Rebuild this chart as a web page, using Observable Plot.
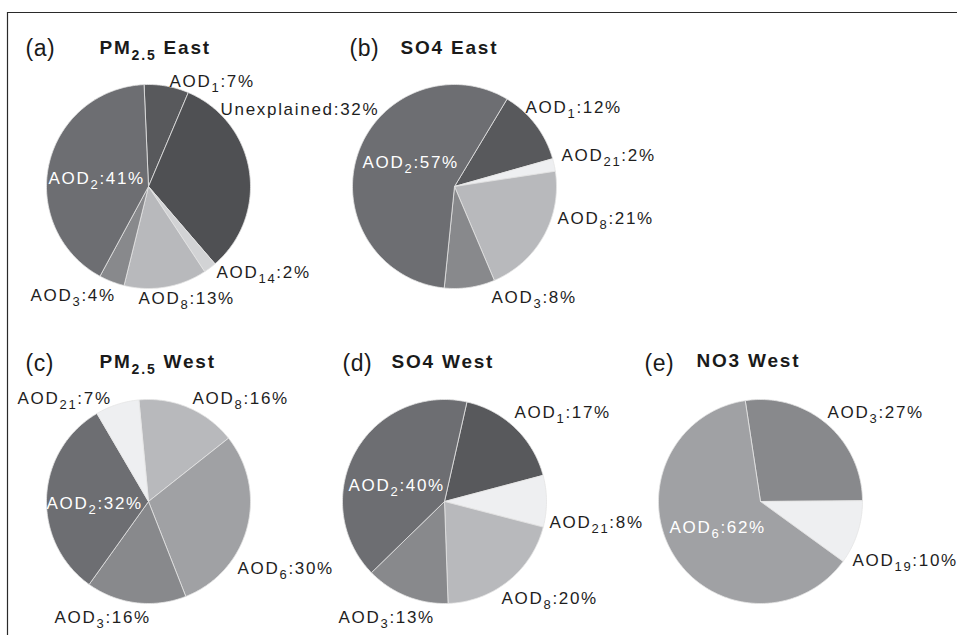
<!DOCTYPE html>
<html>
<head>
<meta charset="utf-8">
<script src="https://cdn.jsdelivr.net/npm/d3@7"></script>
<script src="https://cdn.jsdelivr.net/npm/@observablehq/plot@0.6"></script>
<style>
  html, body { margin: 0; padding: 0; background: #fff; }
  #chart svg { display: block; }
</style>
</head>
<body>
<div id="chart"></div>
<script>
// Contribution (%) of each AOD factor to the five species/regions
const panelTags = ["(a)", "(b)", "(c)", "(d)", "(e)"];
const panelTitles = ["PM2.5 East", "SO4 East", "PM2.5 West", "SO4 West", "NO3 West"];

const pm25EastKeys = ["AOD1", "Unexplained", "AOD14", "AOD8", "AOD3", "AOD2"];
const pm25EastValues = [7, 32, 2, 13, 4, 41];

const so4EastKeys = ["AOD1", "AOD21", "AOD8", "AOD3", "AOD2"];
const so4EastValues = [12, 2, 21, 8, 57];

const pm25WestKeys = ["AOD8", "AOD6", "AOD3", "AOD2", "AOD21"];
const pm25WestValues = [16, 30, 16, 32, 7];

const so4WestKeys = ["AOD1", "AOD21", "AOD8", "AOD3", "AOD2"];
const so4WestValues = [17, 8, 20, 13, 40];

const no3WestKeys = ["AOD3", "AOD19", "AOD6"];
const no3WestValues = [27, 10, 62];

// Grey shade used for each factor
const factorShade = {
  AOD1: "#58595c", Unexplained: "#4f5053", AOD2: "#6d6e72", AOD3: "#88898c",
  AOD6: "#a0a1a4", AOD8: "#b8b9bc", AOD14: "#d2d3d5", AOD19: "#eeeff1", AOD21: "#eeeff1"
};

// Page layout
const W = 957, H = 635, R = 102;
const frameLeft = 7, frameTop = 12;
const pieLayout = [
  {cx: 148, cy: 186, start: -2.5, tagX: 25, tagY: 55, titleX: 99, titleY: 53, inside: "AOD2",
   offsets: [[21, -100], [72, -72], [68, 91], [-10, 117], [-118, 114], [-100, -3]]},
  {cx: 454, cy: 186, start: 31, tagX: 349, tagY: 55, titleX: 400, titleY: 53, inside: "AOD2",
   offsets: [[71, -74], [107, -26], [103, 37], [37, 116], [-92, -19]]},
  {cx: 148, cy: 501, start: -5.4, tagX: 25, tagY: 370, titleX: 99, titleY: 367, inside: "AOD2",
   offsets: [[44, -98], [89, 72], [-94, 121], [-102, 7], [-131, -98]]},
  {cx: 444, cy: 501, start: 12.7, tagX: 342, tagY: 370, titleX: 391, titleY: 367, inside: "AOD2",
   offsets: [[70, -84], [105, 26], [57, 102], [-106, 121], [-96, -11]]},
  {cx: 760, cy: 501, start: -8.6, tagX: 644, tagY: 370, titleX: 696, titleY: 366, inside: "AOD6",
   offsets: [[67, -84], [92, 64], [-91, 31]]}
];

const pies = [
  {keys: pm25EastKeys, values: pm25EastValues},
  {keys: so4EastKeys, values: so4EastValues},
  {keys: pm25WestKeys, values: pm25WestValues},
  {keys: so4WestKeys, values: so4WestValues},
  {keys: no3WestKeys, values: no3WestValues}
];

// Build slice outlines (as closed polygons) and label records
const slicePoints = [];
const labels = [];
pies.forEach((pie, p) => {
  const L = pieLayout[p];
  const rows = pie.keys.map((k, i) => ({key: k, value: pie.values[i]}));
  const a0 = L.start * Math.PI / 180;
  const arcs = d3.pie().sort(null).value(d => d.value).startAngle(a0).endAngle(a0 + 2 * Math.PI)(rows);
  arcs.forEach((arc, i) => {
    const id = `${p}-${i}`;
    const fill = factorShade[arc.data.key];
    const steps = Math.max(2, Math.ceil((arc.endAngle - arc.startAngle) / (Math.PI / 180)));
    slicePoints.push({id, fill, x: L.cx, y: L.cy});
    for (let s = 0; s <= steps; s++) {
      const t = arc.startAngle + (arc.endAngle - arc.startAngle) * s / steps;
      slicePoints.push({id, fill, x: L.cx + R * Math.sin(t), y: L.cy - R * Math.cos(t)});
    }
    slicePoints.push({id, fill, x: L.cx, y: L.cy});
    const [dx, dy] = L.offsets[i];
    labels.push({
      x: L.cx + dx, y: L.cy + dy,
      text: `${arc.data.key}:${arc.data.value}%`,
      ink: arc.data.key === L.inside ? "#ffffff" : "#1e1e1e"
    });
  });
});

const titles = panelTitles.map((t, p) => ({x: pieLayout[p].titleX, y: pieLayout[p].titleY, text: t}));
const tags = panelTags.map((t, p) => ({x: pieLayout[p].tagX, y: pieLayout[p].tagY, text: t}));
const frameTopEdge = [{y: frameTop, x1: frameLeft, x2: W}];
const frameLeftEdge = [{x: frameLeft, y1: frameTop, y2: H}];

const chart = Plot.plot({
  width: W,
  height: H,
  margin: 0,
  x: {domain: [0, W], range: [0, W], axis: null},
  y: {domain: [0, H], range: [0, H], axis: null},
  color: {type: "identity"},
  style: {fontFamily: "'Liberation Sans', Arial, Helvetica, sans-serif", background: "#ffffff"},
  marks: [
    Plot.ruleY(frameTopEdge, {y: "y", x1: "x1", x2: "x2", stroke: "#2a2a2a", strokeWidth: 1.2}),
    Plot.ruleX(frameLeftEdge, {x: "x", y1: "y1", y2: "y2", stroke: "#2a2a2a", strokeWidth: 1.2}),
    Plot.line(slicePoints, {x: "x", y: "y", z: "id", fill: "fill", stroke: "#e4e4e4", strokeWidth: 0.8, strokeLinejoin: "round", curve: "linear"}),
    Plot.text(labels, {x: "x", y: "y", text: "text", fill: "ink", textAnchor: "start", lineAnchor: "bottom", fontSize: 17}),
    Plot.text(titles, {x: "x", y: "y", text: "text", fill: "#1a1a1a", textAnchor: "start", lineAnchor: "bottom", fontSize: 19, fontWeight: "bold"}),
    Plot.text(tags, {x: "x", y: "y", text: "text", fill: "#1a1a1a", textAnchor: "start", lineAnchor: "bottom", fontSize: 23})
  ]
});

// Typeset subscripts (AOD indices, PM2.5) and letter spacing
const SVGNS = "http://www.w3.org/2000/svg";
function typeset(el, head, sub, tail, subSize, shift) {
  el.textContent = "";
  const a = document.createElementNS(SVGNS, "tspan");
  a.textContent = head;
  const b = document.createElementNS(SVGNS, "tspan");
  b.textContent = sub;
  b.setAttribute("font-size", subSize);
  b.setAttribute("dy", shift);
  const c = document.createElementNS(SVGNS, "tspan");
  c.textContent = tail;
  c.setAttribute("dy", -shift);
  el.append(a, b, c);
}
const textGroups = chart.querySelectorAll("g[aria-label='text']");
const spacing = ["1.7px", "1.8px", "0.5px"];
textGroups.forEach((g, k) => {
  g.setAttribute("letter-spacing", spacing[k] || "0px");
  g.querySelectorAll("text").forEach(el => {
    const s = el.textContent;
    let m;
    if ((m = s.match(/^(AOD)(\d+)(:.*)$/))) typeset(el, m[1], m[2], m[3], 13, 5);
    else if ((m = s.match(/^(PM)(2\.5)( .*)$/))) typeset(el, m[1], m[2], m[3], 14, 6);
  });
});

document.getElementById("chart").append(chart);
</script>
</body>
</html>
